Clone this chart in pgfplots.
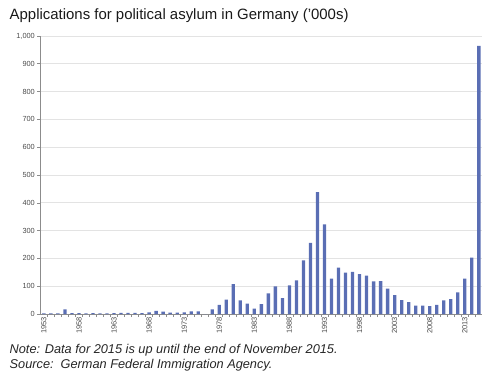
\documentclass[border=0pt]{standalone}
\usepackage{pgfplots}
\pgfplotsset{compat=1.18}
\usepackage{fontspec}
\setmainfont{Liberation Sans}
\definecolor{barblue}{HTML}{5A6EB4}
\definecolor{gridgray}{HTML}{E3E3E3}
\definecolor{axisgray}{HTML}{8C8C8C}
\definecolor{labgray}{HTML}{4A4A4A}
\begin{document}
\begin{tikzpicture}[x=1bp,y=1bp]
\useasboundingbox (0,0) rectangle (504,389);
\node[anchor=base west, inner sep=0pt, font=\fontsize{15}{18}\selectfont, text=black!90] at (9.5,370) {Applications for political asylum in Germany ('000s)};
\begin{axis}[
  at={(40bp,75bp)}, anchor=south west,
  scale only axis, width=442bp, height=278bp,
  xmin=1952.45, xmax=2015.45,
  ymin=0, ymax=1000,
  ytick={0,100,...,1000},
  xtick={1953.5,1954.5,...,2014.5},
  xticklabels={},
  extra x ticks={1953,1958,...,2013},
  extra x tick style={major tick length=0pt},
  x tick label style={rotate=90, anchor=east, font=\fontsize{7.5}{8.5}\selectfont, text=labgray, inner sep=3pt, /pgf/number format/1000 sep={}},
  y tick label style={font=\fontsize{7.4}{8.5}\selectfont, text=labgray, inner sep=2pt},
  /pgf/number format/assume math mode=true,
  /pgf/number format/1000 sep={,},
  axis x line*=bottom, axis y line*=left,
  axis line style={axisgray, -, line width=0.8bp},
  tick style={axisgray, line width=0.6bp},
  tick align=outside,
  major tick length=3bp,
  ymajorgrids, grid style={gridgray, line width=0.8bp},
  ybar, bar width=3.3bp,
]
\addplot[fill=barblue, draw=none] coordinates {
(1953,1.9) (1954,2.2) (1955,2.2) (1956,16.3) (1957,3.1) (1958,2.8) (1959,2.3)
(1960,3.0) (1961,2.7) (1962,2.6) (1963,3.2) (1964,4.5) (1965,4.3) (1966,4.4)
(1967,3.0) (1968,5.6) (1969,11.7) (1970,8.6) (1971,5.4) (1972,5.3) (1973,5.6)
(1974,9.4) (1975,9.6) (1976,0) (1977,16.4) (1978,33.1) (1979,51.5) (1980,107.8)
(1981,49.4) (1982,37.4) (1983,19.7) (1984,35.3) (1985,73.8) (1986,99.7) (1987,57.4)
(1988,103.1) (1989,121.3) (1990,193.1) (1991,256.1) (1992,438.2) (1993,322.6)
(1994,127.2) (1995,166.9) (1996,149.2) (1997,151.7) (1998,143.4) (1999,138.3)
(2000,117.6) (2001,118.3) (2002,91.5) (2003,67.8) (2004,50.2) (2005,42.9)
(2006,30.1) (2007,30.3) (2008,28.0) (2009,33.0) (2010,48.6) (2011,53.3)
(2012,77.7) (2013,127.0) (2014,202.8) (2015,964.6)
};
\end{axis}
\node[anchor=base west, inner sep=0pt, font=\fontsize{12.8}{15}\selectfont\itshape, text=black!85] at (9.5,35.5) {Note: Data for 2015 is up until the end of November 2015.};
\node[anchor=base west, inner sep=0pt, font=\fontsize{12.8}{15}\selectfont\itshape, text=black!85] at (9.5,20.5) {Source:\ \ German Federal Immigration Agency.};
\end{tikzpicture}
\end{document}
